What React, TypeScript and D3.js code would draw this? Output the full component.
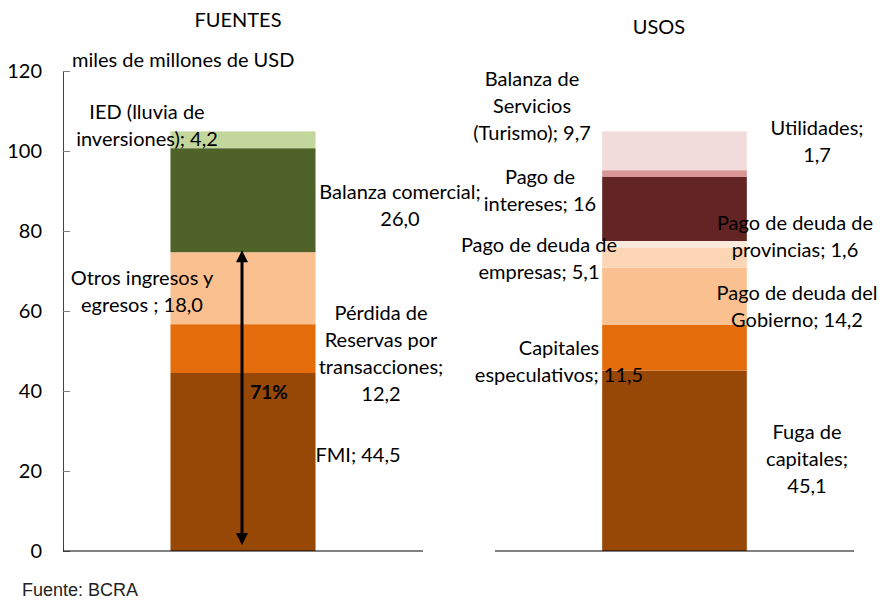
import { scaleLinear, scaleBand, axisLeft, select, format } from "d3";
import { useEffect, useRef } from "react";

// FUENTES (bottom to top)
const fuentesNames = [
  "FMI; {v}",
  "Pérdida de\nReservas por\ntransacciones;\n{v}",
  "Otros ingresos y\negresos ; {v}",
  "Balanza comercial;\n{v}",
  "IED (lluvia de\ninversiones); {v}",
];
const fuentesValues = [44.5, 12.2, 18.0, 26.0, 4.2];
const fuentesColors = ["#974706", "#E46C0A", "#FAC090", "#4F6228", "#C3D69B"];

// USOS (bottom to top)
const usosNames = [
  "Fuga de\ncapitales;\n{v}",
  "Capitales\nespeculativos; {v}",
  "Pago de deuda del\nGobierno; {v}",
  "Pago de deuda de\nempresas; {v}",
  "Pago de deuda de\nprovincias; {v}",
  "Pago de\nintereses; {i}",
  "Utilidades;\n{v}",
  "Balanza de\nServicios\n(Turismo); {v}",
];
const usosValues = [45.1, 11.5, 14.2, 5.1, 1.6, 16, 1.7, 9.7];
const usosColors = ["#974706", "#E46C0A", "#FAC090", "#FCD5B5", "#FDEADA", "#632523", "#D99694", "#F2DCDB"];

const yTicks = [0, 20, 40, 60, 80, 100, 120];
const arrowSpan = [1.5, 75.2];
const arrowText = "71%";

// label placements (center x, first line center y), in pixels
const fuentesLabelPos = [
  [358, 455], [381, 313], [142, 278], [400, 192], [147, 112],
];
const usosLabelPos = [
  [807, 432], [559, 348], [797, 293], [539, 245], [795, 223], [540, 177], [817, 128], [532, 79],
];

const font = "Lato, 'Noto Sans', sans-serif";
const fs = 20;
const lineH = 27;

const y = scaleLinear().domain([0, 120]).range([551, 71]);
const xLeft = scaleBand().domain(["FUENTES"]).range([63, 423]).paddingInner(0).paddingOuter(0.741);
const xRight = scaleBand().domain(["USOS"]).range([495, 854]).paddingInner(0).paddingOuter(0.741);

const fmt = (v: number) => format(".1f")(v).replace(".", ",");

function stack(values: number[]) {
  let acc = 0;
  return values.map((v) => {
    const s = { y0: acc, y1: acc + v, v };
    acc += v;
    return s;
  });
}

function Label({ text, x, y0 }: { text: string; x: number; y0: number }) {
  const lines = text.split("\n");
  return (
    <text fontFamily={font} fontSize={fs} fill="#000" textAnchor="middle">
      {lines.map((l, i) => (
        <tspan key={i} x={x} y={y0 + i * lineH + 7}>
          {l}
        </tspan>
      ))}
    </text>
  );
}

function Bars({ names, values, colors, pos, band, key0 }: any) {
  const st = stack(values);
  const x0 = band(key0) as number;
  const w = band.bandwidth();
  return (
    <g>
      {st.map((s, i) => (
        <rect key={i} x={x0} width={w} y={y(s.y1)} height={y(s.y0) - y(s.y1)} fill={colors[i]} />
      ))}
      {st.map((s, i) => (
        <Label
          key={"l" + i}
          text={names[i].replace("{v}", fmt(s.v)).replace("{i}", String(s.v))}
          x={pos[i][0]}
          y0={pos[i][1]}
        />
      ))}
    </g>
  );
}

export default function App() {
  const axisRef = useRef<SVGGElement>(null);
  useEffect(() => {
    const g = select(axisRef.current);
    g.call(axisLeft(y).tickValues(yTicks).tickSizeInner(-7).tickSizeOuter(0).tickPadding(21) as any);
    g.select(".domain").attr("stroke", "#404040");
    g.selectAll(".tick line").attr("stroke", "#808080");
    g.selectAll(".tick text").attr("font-family", font).attr("font-size", fs).attr("fill", "#000");
  }, []);

  const ax = (xLeft("FUENTES") as number) + xLeft.bandwidth() / 2 - 1;
  return (
    <svg width={882} height={600} style={{ position: "absolute", left: 0, top: 0 }}>
      <rect width={882} height={600} fill="#fff" />
      <text x={238} y={27} fontFamily={font} fontSize={fs} textAnchor="middle">FUENTES</text>
      <text x={659} y={34} fontFamily={font} fontSize={fs} textAnchor="middle">USOS</text>
      <text x={72} y={67} fontFamily={font} fontSize={fs}>miles de millones de USD</text>

      <Bars names={fuentesNames} values={fuentesValues} colors={fuentesColors} pos={fuentesLabelPos} band={xLeft} key0="FUENTES" />
      <Bars names={usosNames} values={usosValues} colors={usosColors} pos={usosLabelPos} band={xRight} key0="USOS" />

      <g ref={axisRef} transform="translate(63,0)" />
      <line x1={63} x2={423} y1={y(0)} y2={y(0)} stroke="#000" />
      <line x1={495} x2={854} y1={y(0)} y2={y(0)} stroke="#000" />

      {/* double arrow */}
      <line x1={ax} x2={ax} y1={y(arrowSpan[0]) - 10} y2={y(arrowSpan[1]) + 10} stroke="#000" strokeWidth={3} />
      <path d={`M${ax},${y(arrowSpan[1])} l6,12 l-12,0 z`} fill="#000" />
      <path d={`M${ax},${y(arrowSpan[0])} l6,-12 l-12,0 z`} fill="#000" />
      <text x={269} y={399} fontFamily={font} fontSize={fs - 1} fontWeight="bold" textAnchor="middle">{arrowText}</text>

      <text x={22} y={596} fontFamily="'Liberation Sans', Arial, sans-serif" fontSize={18} fill="#222">Fuente: BCRA</text>
    </svg>
  );
}
